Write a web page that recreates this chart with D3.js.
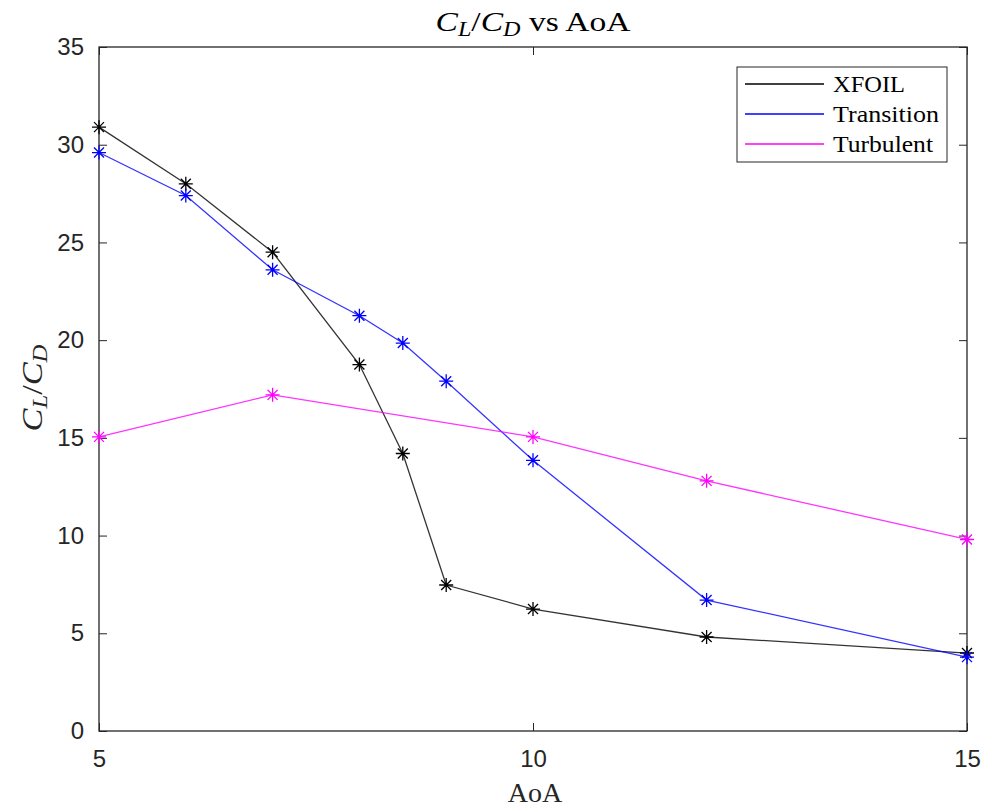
<!DOCTYPE html>
<html>
<head>
<meta charset="utf-8">
<script src="https://cdn.jsdelivr.net/npm/d3@7/dist/d3.min.js"></script>
<style>
  html, body { margin: 0; padding: 0; background: #fff; }
  svg { display: block; }
</style>
</head>
<body>
<svg id="chart" width="983" height="807"></svg>
<script>
const aoaXfoil = [5, 6, 7, 8, 8.5, 9, 10, 12, 15];
const xfoil = [30.9, 28.0, 24.5, 18.75, 14.2, 7.47, 6.24, 4.81, 3.99];

const aoaTransition = [5, 6, 7, 8, 8.5, 9, 10, 12, 15];
const transition = [29.6, 27.4, 23.6, 21.25, 19.85, 17.9, 13.85, 6.7, 3.78];

const aoaTurbulent = [5, 7, 10, 12, 15];
const turbulent = [15.05, 17.2, 15.05, 12.8, 9.8];

const xTicks = [5, 10, 15];
const yTicks = [0, 5, 10, 15, 20, 25, 30, 35];

const seriesNames = ["XFOIL", "Transition", "Turbulent"];
const seriesColors = ["#000000", "#0000ff", "#ff00ff"];
const legendTextWidths = [72, 106, 100];

const svg = d3.select("#chart");
const L = 99, R = 967, T = 47, B = 731;
const axisColor = "#262626";

const x = d3.scaleLinear().domain([5, 15]).range([L, R]);
const y = d3.scaleLinear().domain([0, 35]).range([B, T]);

const series = [
  { name: seriesNames[0], color: seriesColors[0], xs: aoaXfoil, ys: xfoil },
  { name: seriesNames[1], color: seriesColors[1], xs: aoaTransition, ys: transition },
  { name: seriesNames[2], color: seriesColors[2], xs: aoaTurbulent, ys: turbulent }
];

// box
svg.append("rect").attr("x", L).attr("y", T).attr("width", R - L).attr("height", B - T)
  .attr("fill", "none").attr("stroke", axisColor).attr("stroke-width", 1.3);

const tickFont = "'Liberation Sans', Arial, Helvetica, sans-serif";
const serif = "'Liberation Serif', 'DejaVu Serif', serif";

// x axis bottom
const xAxis = d3.axisBottom(x).tickValues(xTicks).tickSize(-8).tickPadding(19).tickFormat(d3.format("d"));
const gx = svg.append("g").attr("transform", `translate(0,${B})`).call(xAxis);
gx.select(".domain").remove();
gx.selectAll("line").attr("stroke", axisColor);
gx.selectAll("text").attr("font-family", tickFont).attr("font-size", 24).attr("fill", axisColor);

const xAxisTop = d3.axisTop(x).tickValues(xTicks).tickSize(-8).tickFormat("");
const gxt = svg.append("g").attr("transform", `translate(0,${T})`).call(xAxisTop);
gxt.select(".domain").remove();
gxt.selectAll("line").attr("stroke", axisColor);

// y axis
const yAxis = d3.axisLeft(y).tickValues(yTicks).tickSize(-8).tickPadding(15).tickFormat(d3.format("d"));
const gy = svg.append("g").attr("transform", `translate(${L},0)`).call(yAxis);
gy.select(".domain").remove();
gy.selectAll("line").attr("stroke", axisColor);
gy.selectAll("text").attr("font-family", tickFont).attr("font-size", 24).attr("fill", axisColor);

const yAxisRight = d3.axisRight(y).tickValues(yTicks).tickSize(-8).tickFormat("");
const gyr = svg.append("g").attr("transform", `translate(${R},0)`).call(yAxisRight);
gyr.select(".domain").remove();
gyr.selectAll("line").attr("stroke", axisColor);

// lines and markers
const line = d3.line().x(d => x(d[0])).y(d => y(d[1]));
function star(g, cx, cy, color) {
  const r = 7, rd = 5;
  const p = `M${cx - r},${cy}L${cx + r},${cy}M${cx},${cy - r}L${cx},${cy + r}` +
    `M${cx - rd},${cy - rd}L${cx + rd},${cy + rd}M${cx - rd},${cy + rd}L${cx + rd},${cy - rd}`;
  g.append("path").attr("d", p).attr("stroke", color).attr("stroke-width", 1.3).attr("fill", "none");
}
series.forEach(s => {
  const pts = s.xs.map((v, i) => [v, s.ys[i]]);
  const g = svg.append("g");
  g.append("path").datum(pts).attr("d", line).attr("fill", "none")
    .attr("stroke", s.color).attr("stroke-width", 1.3).attr("stroke-opacity", 0.8);
  pts.forEach(p => star(g, x(p[0]), y(p[1]), s.color));
});

// legend
const lg = svg.append("g");
lg.append("rect").attr("x", 737).attr("y", 67).attr("width", 210).attr("height", 95)
  .attr("fill", "#fff").attr("stroke", axisColor).attr("stroke-width", 1);
series.forEach((s, i) => {
  const yy = 84 + i * 30;
  lg.append("line").attr("x1", 745).attr("x2", 824).attr("y1", yy).attr("y2", yy)
    .attr("stroke", s.color).attr("stroke-width", 1.3);
  lg.append("text").attr("x", 833).attr("y", yy + 8).text(s.name)
    .attr("font-family", serif).attr("font-size", 24).attr("fill", "#000")
    .attr("textLength", legendTextWidths[i]).attr("lengthAdjust", "spacingAndGlyphs");
});

// title
function mathLabel(sel) {
  sel.append("tspan").attr("font-style", "italic").text("C");
  sel.append("tspan").attr("font-style", "italic").attr("font-size", "0.72em").attr("dy", "0.25em").text("L");
  sel.append("tspan").attr("dy", "-0.18em").text("/");
  sel.append("tspan").attr("font-style", "italic").text("C");
  sel.append("tspan").attr("font-style", "italic").attr("font-size", "0.72em").attr("dy", "0.25em").text("D");
}
const title = svg.append("text").attr("x", 533).attr("y", 31).attr("text-anchor", "middle")
  .attr("font-family", serif).attr("font-size", 28).attr("fill", "#000")
  .attr("textLength", 195).attr("lengthAdjust", "spacingAndGlyphs");
mathLabel(title);
title.append("tspan").attr("dy", "-0.18em").text(" vs AoA");

// x label
svg.append("text").attr("x", 535).attr("y", 802).attr("text-anchor", "middle")
  .attr("font-family", serif).attr("font-size", 28).attr("fill", axisColor).text("AoA");

// y label
const yl = svg.append("text").attr("transform", "translate(42,388) rotate(-90)").attr("text-anchor", "middle")
  .attr("font-family", serif).attr("font-size", 30).attr("fill", axisColor)
  .attr("textLength", 87).attr("lengthAdjust", "spacingAndGlyphs");
mathLabel(yl);
</script>
</body>
</html>
